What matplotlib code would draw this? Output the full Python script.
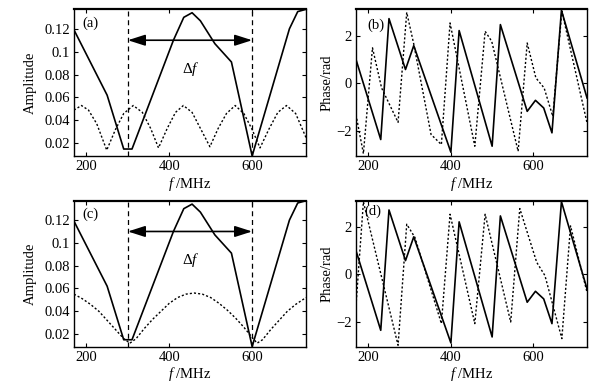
import numpy as np
import matplotlib
matplotlib.use('Agg')
import matplotlib.pyplot as plt

plt.rcParams['font.family'] = 'Liberation Serif'
plt.rcParams['mathtext.fontset'] = 'custom'
plt.rcParams['mathtext.rm'] = 'Liberation Serif'
plt.rcParams['mathtext.it'] = 'Liberation Serif:italic'
plt.rcParams['font.size'] = 10.5

# Amplitude, solid curve (same in (a) and (c))
amp_f = [170, 250, 290, 310, 410, 435, 455, 475, 510, 550, 600, 690, 710, 730]
amp_solid = [0.119, 0.062, 0.015, 0.015, 0.110, 0.130, 0.134, 0.127, 0.107, 0.091, 0.009, 0.120, 0.135, 0.137]

# Amplitude, dotted curve in (a)
amp_a_f = [170, 188, 205, 225, 249, 270, 290, 313, 335, 355, 374, 395, 415, 434, 455,
           478, 498, 518, 538, 559, 580, 600, 619, 640, 662, 683, 705, 730]
amp_a_dot = [0.049, 0.053, 0.049, 0.037, 0.014, 0.032, 0.046, 0.053, 0.047, 0.033, 0.016,
             0.033, 0.047, 0.053, 0.047, 0.031, 0.017, 0.033, 0.046, 0.053, 0.046, 0.032,
             0.016, 0.032, 0.047, 0.053, 0.046, 0.025]

# Amplitude, dotted curve in (c)
amp_c_f = [170, 190, 210, 230, 250, 270, 290, 305, 320, 340, 360, 380, 400, 420, 440, 460,
           480, 500, 520, 540, 560, 580, 600, 612, 625, 645, 665, 685, 705, 730]
amp_c_dot = [0.055, 0.051, 0.046, 0.040, 0.032, 0.024, 0.016, 0.012, 0.016, 0.025, 0.033,
             0.040, 0.047, 0.052, 0.055, 0.056, 0.055, 0.052, 0.047, 0.041, 0.034, 0.026,
             0.017, 0.012, 0.015, 0.024, 0.032, 0.040, 0.046, 0.052]

# Phase, solid curve (same in (b) and (d))
ph_f = [170, 230, 250, 290, 310, 400, 420, 500, 520, 585, 605, 625, 645, 668, 730]
ph_solid = [1.0, -2.35, 2.71, 0.58, 1.58, -2.88, 2.21, -2.63, 2.46, -1.17, -0.71, -1.03, -2.07, 3.06, -0.61]

# Phase, dotted curve in (b)
ph_b_f = [170, 188, 210, 232, 272, 293, 310, 352, 377, 398, 458, 483, 499, 563, 585, 606, 626, 647, 669, 730]
ph_b_dot = [-1.31, -2.94, 1.49, -0.19, -1.63, 2.97, 1.65, -2.14, -2.56, 2.53, -2.63, 2.18, 1.76,
            -2.84, 1.69, 0.23, -0.19, -1.38, 3.02, -1.65]

# Phase, dotted curve in (d)
ph_d_f = [170, 188, 272, 293, 313, 377, 398, 458, 483, 545, 567, 608, 628, 669, 690, 730]
ph_d_dot = [-1.31, 3.05, -2.98, 2.11, 1.55, -2.07, 2.53, -2.07, 2.53, -2.0, 2.77, 0.51, -0.05,
            -2.7, 2.04, -0.75]

amp_ticks = [0.02, 0.04, 0.06, 0.08, 0.1, 0.12]
amp_labels = ['0.02', '0.04', '0.06', '0.08', '0.1', '0.12']
ph_ticks = [-2, 0, 2]
f_ticks = [200, 400, 600]
marker_f = [300, 600]

fig = plt.figure(figsize=(6.08, 3.91), dpi=100)
ax_a = fig.add_axes([0.1217, 0.601, 0.3816, 0.3752])
ax_b = fig.add_axes([0.5855, 0.601, 0.38, 0.3752])
ax_c = fig.add_axes([0.1217, 0.1133, 0.3816, 0.3734])
ax_d = fig.add_axes([0.5855, 0.1133, 0.38, 0.3734])

dot = (0, (1.5, 1.5))

def style(ax, tag, tx, ty):
    ax.set_xlim(170, 730)
    ax.set_xticks(f_ticks)
    ax.tick_params(direction='in', top=True, right=True, length=3, width=0.8, pad=3)
    ax.set_xlabel(r'$f$ /MHz', labelpad=1)
    for s in ax.spines.values():
        s.set_linewidth(1.0)
    ax.spines['top'].set_linewidth(1.6)
    ax.text(tx, ty, tag, transform=ax.transAxes, ha='center', va='center')

# amplitude panels
for ax, df, dv, tag, ty in [(ax_a, amp_a_f, amp_a_dot, '(a)', 0.905), (ax_c, amp_c_f, amp_c_dot, '(c)', 0.91)]:
    ax.plot(amp_f, amp_solid, color='k', lw=1.2)
    ax.plot(df, dv, color='k', lw=1.0, linestyle=dot)
    for m in marker_f:
        ax.axvline(m, color='k', lw=0.9, linestyle=(0, (4, 3)))
    ax.annotate('', xy=(600, 0.11), xytext=(300, 0.11),
                arrowprops=dict(arrowstyle='<|-|>,head_length=1.0,head_width=0.32',
                                color='k', lw=1.2, shrinkA=0, shrinkB=0))
    ax.text(452, 0.085, r'$\Delta f$', ha='center', va='center', fontsize=11)
    ax.set_ylim(0.0089, 0.137)
    ax.set_yticks(amp_ticks)
    ax.set_yticklabels(amp_labels)
    ax.set_ylabel('Amplitude', labelpad=5)
    style(ax, tag, 0.072, ty)

# phase panels
for ax, df, dv, tag, tx, ty in [(ax_b, ph_b_f, ph_b_dot, '(b)', 0.087, 0.893), (ax_d, ph_d_f, ph_d_dot, '(d)', 0.075, 0.925)]:
    ax.plot(ph_f, ph_solid, color='k', lw=1.2)
    ax.plot(df, dv, color='k', lw=1.0, linestyle=dot)
    ax.set_ylim(-3.04, 3.1)
    ax.set_yticks(ph_ticks)
    ax.set_ylabel('Phase/rad', labelpad=2)
    style(ax, tag, tx, ty)

fig.savefig('out.png', dpi=100)
